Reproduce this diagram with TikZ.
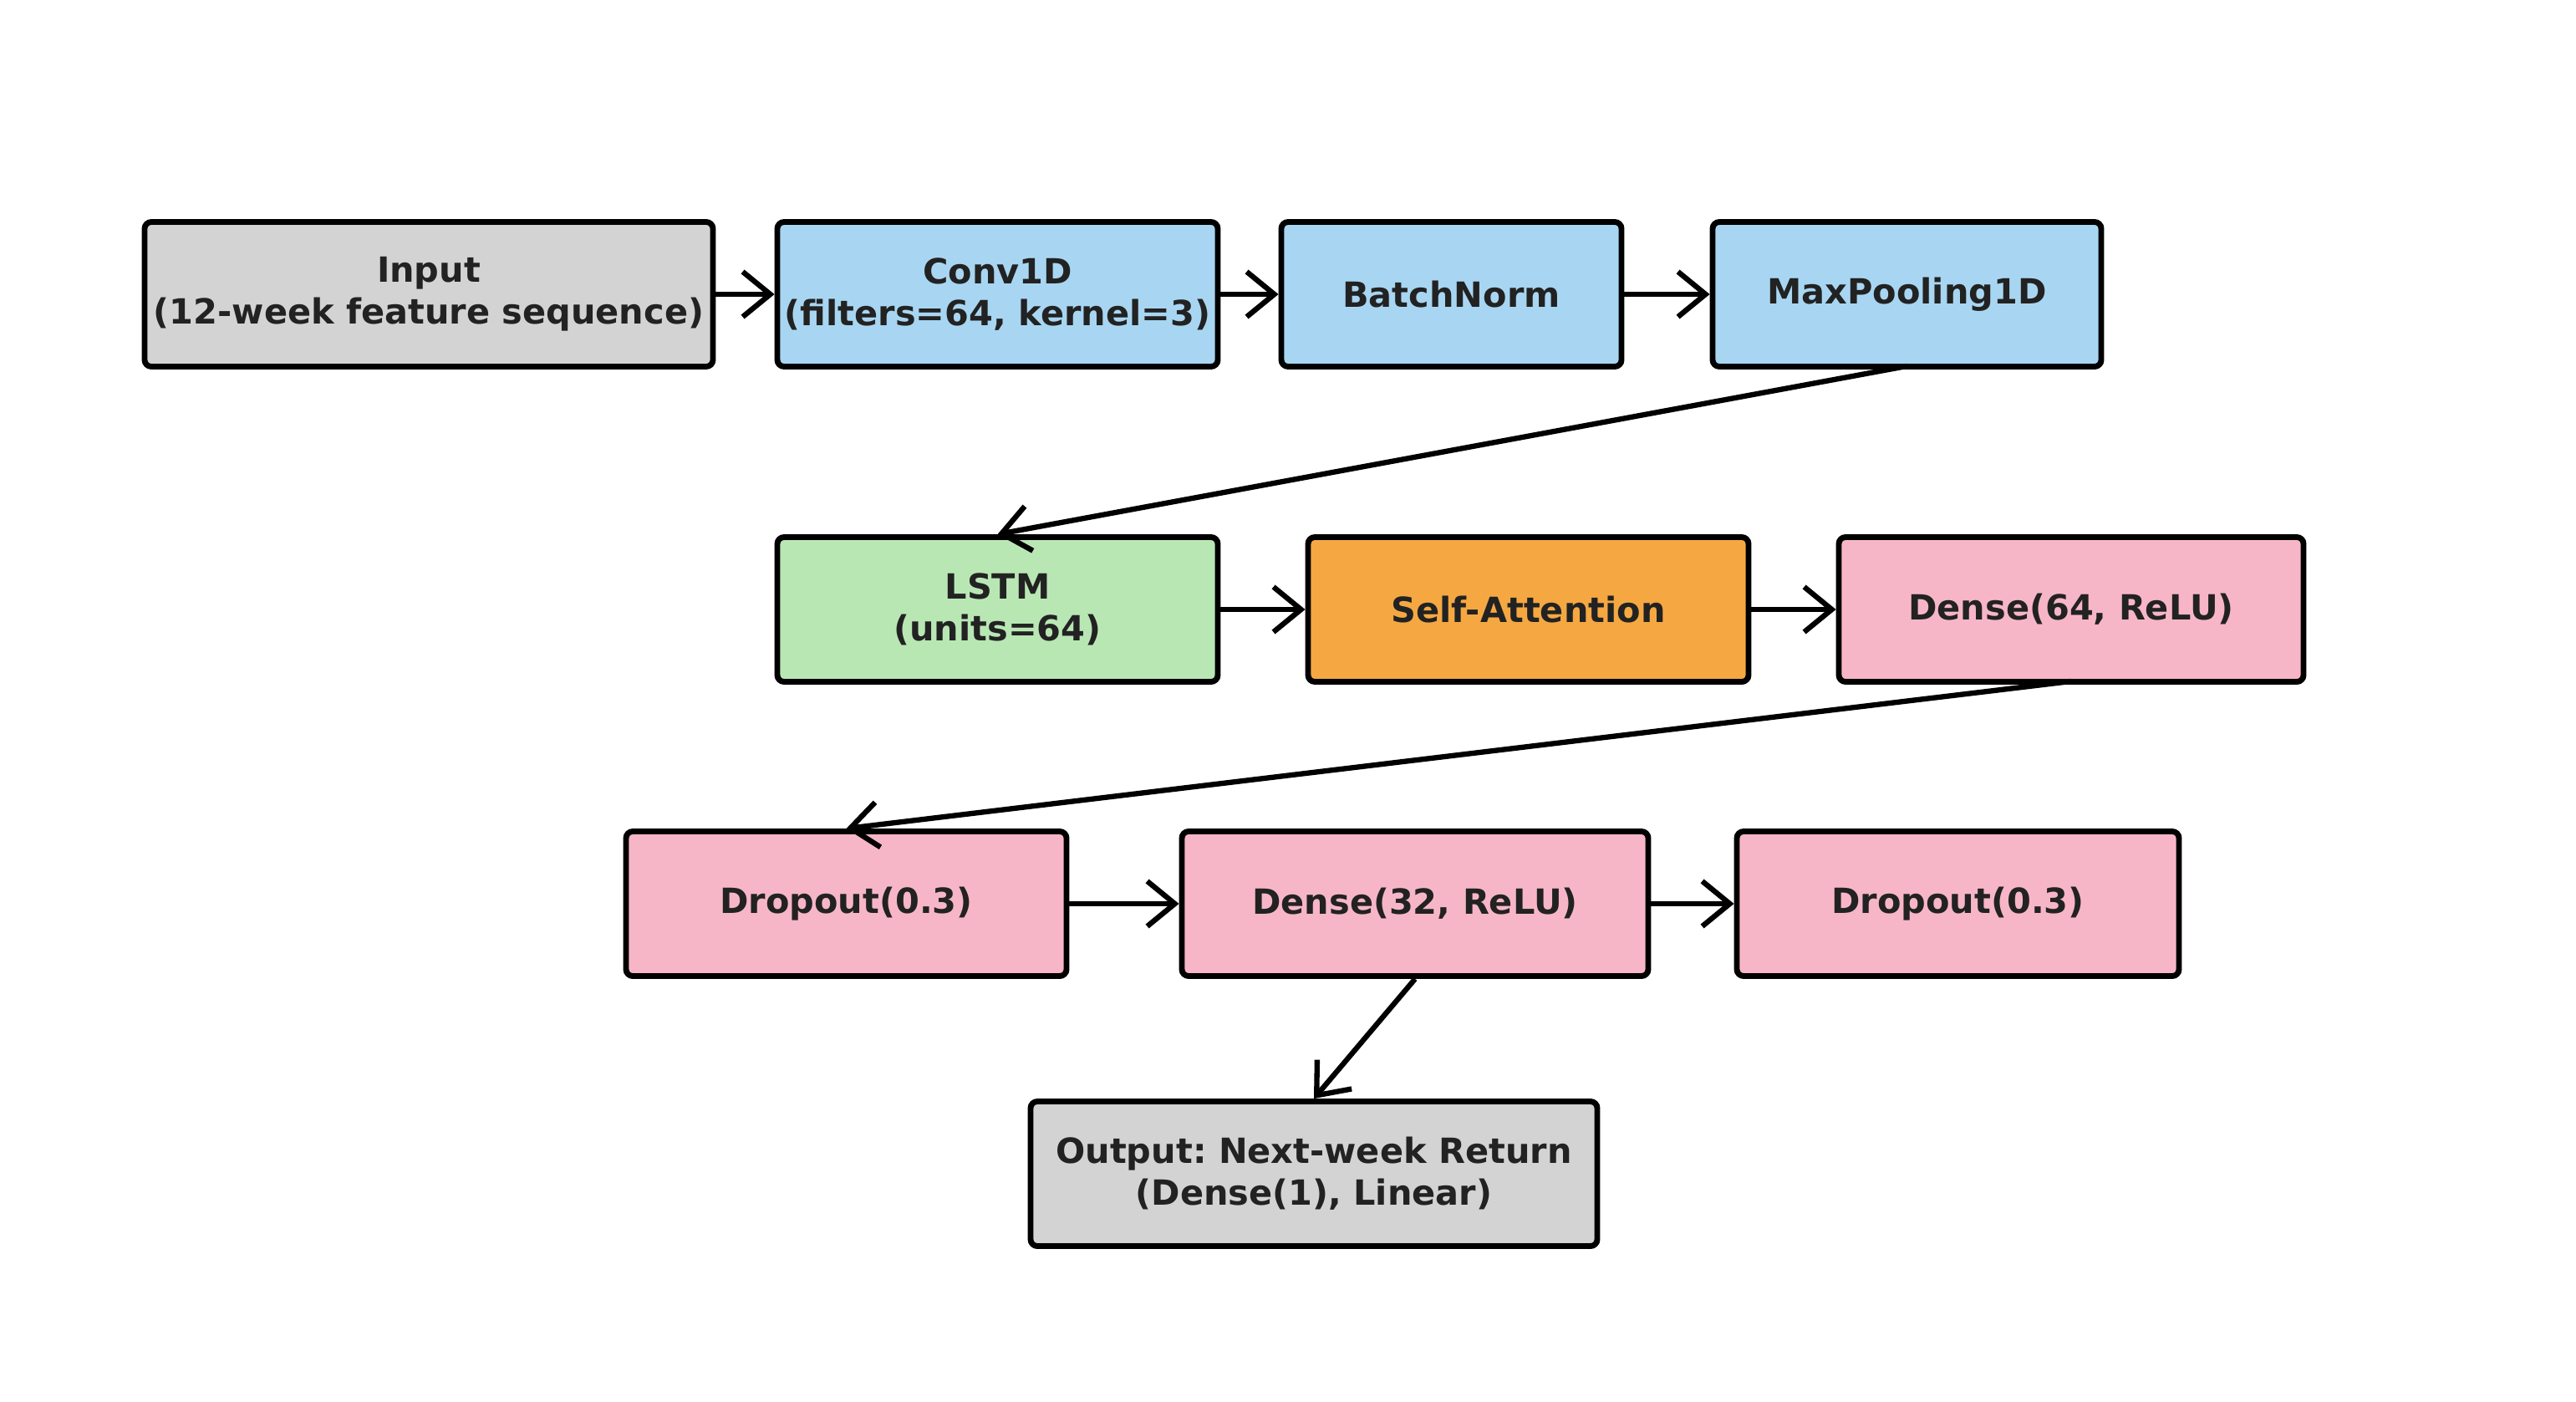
\documentclass[tikz,border=0pt]{standalone}
\usepackage{fontspec}
\setmainfont{DejaVu Sans}
\frenchspacing
\usetikzlibrary{arrows.meta}
\definecolor{grayfill}{RGB}{211,211,211}
\definecolor{bluefill}{RGB}{168,214,242}
\definecolor{greenfill}{RGB}{185,231,180}
\definecolor{orangefill}{RGB}{245,168,66}
\definecolor{pinkfill}{RGB}{247,182,199}
\definecolor{labeltext}{RGB}{34,34,34}
\begin{document}
\begin{tikzpicture}%
        [layer/.style={draw=black, line width=1.95pt, rounded corners=0.08cm,
            minimum height=1.73cm, inner sep=2pt, align=center,
            text=labeltext, font=\fontsize{11.8}{14.2}\selectfont\bfseries},
        link/.style={draw=black, line width=1.8pt,
            -{Straight Barb[length=0.33cm, width=0.54cm, line width=1.8pt]}}]

    %% Canvas
    \useasboundingbox (0,0) rectangle (30.82,-16.77);
    %% Row 1
    \node[layer, fill=grayfill, minimum width=6.80cm] (inp) at (5.13,-3.52) {Input\\(12-week feature sequence)};
    \node[layer, fill=bluefill, minimum width=5.27cm] (conv) at (11.935,-3.52) {Conv1D\\(filters=64, kernel=3)};
    \node[layer, fill=bluefill, minimum width=4.07cm] (bnorm) at (17.365,-3.52) {BatchNorm};
    \node[layer, fill=bluefill, minimum width=4.65cm] (pool) at (22.815,-3.52) {MaxPooling1D};
    %% Row 2
    \node[layer, fill=greenfill, minimum width=5.27cm] (lstm) at (11.935,-7.29) {LSTM\\(units=64)};
    \node[layer, fill=orangefill, minimum width=5.27cm] (attn) at (18.285,-7.29) {Self-Attention};
    \node[layer, fill=pinkfill, minimum width=5.56cm] (densea) at (24.78,-7.29) {Dense(64, ReLU)};
    %% Row 3
    \node[layer, fill=pinkfill, minimum width=5.27cm] (dropa) at (10.125,-10.81) {Dropout(0.3)};
    \node[layer, fill=pinkfill, minimum width=5.58cm] (denseb) at (16.93,-10.81) {Dense(32, ReLU)};
    \node[layer, fill=pinkfill, minimum width=5.29cm] (dropb) at (23.425,-10.81) {Dropout(0.3)};
    %% Output
    \node[layer, fill=grayfill, minimum width=6.78cm] (out) at (15.72,-14.04) {Output: Next-week Return\\(Dense(1), Linear)};
    %%
    %% Connections
    %%
    \draw[link] (inp.east) -- (conv.west);
    \draw[link] (conv.east) -- (bnorm.west);
    \draw[link] (bnorm.east) -- (pool.west);
    \draw[link] ([yshift=0.04cm]pool.south) -- (lstm.north);
    \draw[link] (lstm.east) -- (attn.west);
    \draw[link] (attn.east) -- (densea.west);
    \draw[link] ([yshift=0.04cm]densea.south) -- (dropa.north);
    \draw[link] (dropa.east) -- (denseb.west);
    \draw[link] (denseb.east) -- (dropb.west);
    \draw[link] (denseb.south) -- (out.north);
    %%
\end{tikzpicture}
\end{document}
